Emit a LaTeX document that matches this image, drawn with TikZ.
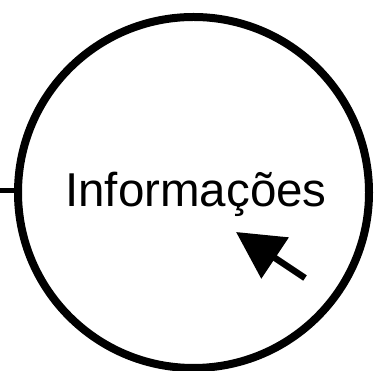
\documentclass[tikz,border=0pt]{standalone}
\usepackage{fontspec}
\setmainfont{Liberation Sans}
\usetikzlibrary{arrows.meta}
\begin{document}
\begin{tikzpicture}[x=1pt,y=1pt,
  bubble/.style={circle, draw=black, line width=8pt, minimum size=351pt, inner sep=0pt},
  link/.style={draw=black, line width=5pt},
  pointer/.style={draw=black, line width=6.5pt, -{Triangle[length=47pt,width=48pt]}}]
  \useasboundingbox (0,0) rectangle (374,371);
  \node[bubble] (info) at (193.5,178.5) {};
  \node[anchor=base, font=\fontsize{47.5}{52}\selectfont] (label) at (196,164) {Informações};
  \coordinate (lead) at (0,180.5);
  \draw[link] (lead) -- (lead -| info.west);
  \coordinate (ptail) at (305,93);
  \coordinate (ptip) at (236,139);
  \draw[pointer] (ptail) -- (ptip);
\end{tikzpicture}
\end{document}
